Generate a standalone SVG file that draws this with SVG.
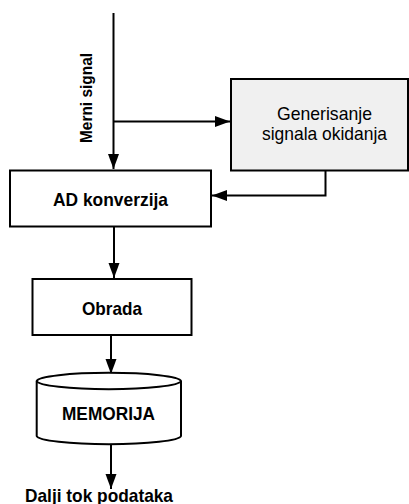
<svg xmlns="http://www.w3.org/2000/svg" width="409" height="504" viewBox="0 0 409 504">
  <style>
    .box { fill: #ffffff; stroke: #000; stroke-width: 2; }
    .gen { fill: #f0f0f0; stroke: #000; stroke-width: 2; }
    .ln { fill: none; stroke: #000; stroke-width: 2; }
    .b { font-family: "Liberation Sans", Arial, sans-serif; font-weight: bold; font-size: 18.5px; fill: #000; text-anchor: middle; }
    .r { font-family: "Liberation Sans", Arial, sans-serif; font-size: 18.5px; fill: #000; text-anchor: middle; }
  </style>
  <defs>
    <marker id="ah" markerUnits="userSpaceOnUse" markerWidth="16" markerHeight="12" refX="15" refY="5.5" orient="auto">
      <path d="M0,0 L15,5.5 L0,11 Z" fill="#000"/>
    </marker>
  </defs>

  <g id="connectors">
    <line class="ln" x1="113.5" y1="13" x2="113.5" y2="169" marker-end="url(#ah)"/>
    <line class="ln" x1="113.5" y1="121.5" x2="230" y2="121.5" marker-end="url(#ah)"/>
    <polyline class="ln" points="325.5,170.5 325.5,195.5 212,195.5" marker-end="url(#ah)"/>
    <line class="ln" x1="114" y1="226.5" x2="114" y2="278" marker-end="url(#ah)"/>
    <line class="ln" x1="111" y1="335" x2="111" y2="374" marker-end="url(#ah)"/>
    <line class="ln" x1="111" y1="444" x2="111" y2="489" marker-end="url(#ah)"/>
  </g>

  <g id="merni-signal">
    <text class="b" style="font-size:16.5px" transform="translate(92,98) rotate(-90)" x="0" y="0" textLength="90" lengthAdjust="spacingAndGlyphs">Merni signal</text>
  </g>

  <g id="generisanje">
    <rect class="gen" x="231" y="79" width="177" height="91.5"/>
    <text class="r" x="324.5" y="120" textLength="95" lengthAdjust="spacingAndGlyphs">Generisanje</text>
    <text class="r" x="324.5" y="140" textLength="125" lengthAdjust="spacingAndGlyphs">signala okidanja</text>
  </g>

  <g id="ad-konverzija">
    <rect class="box" x="10" y="170.5" width="201" height="56"/>
    <text class="b" x="110.5" y="205.5" textLength="115" lengthAdjust="spacingAndGlyphs">AD konverzija</text>
  </g>

  <g id="obrada">
    <rect class="box" x="32.5" y="279" width="159" height="56"/>
    <text class="b" x="112" y="315" textLength="60" lengthAdjust="spacingAndGlyphs">Obrada</text>
  </g>

  <g id="memorija">
    <path class="box" d="M36.7,381 A72.2,8.5 0 0 1 181,381 L181,436 A72.2,8.5 0 0 1 36.7,436 Z"/>
    <path class="ln" d="M36.7,381 A72.2,8.5 0 0 0 181,381"/>
    <text class="b" x="108.5" y="419.5" textLength="93" lengthAdjust="spacingAndGlyphs">MEMORIJA</text>
  </g>

  <g id="dalji-tok">
    <text class="b" x="99" y="501.5" textLength="148" lengthAdjust="spacingAndGlyphs">Dalji tok podataka</text>
  </g>
</svg>
